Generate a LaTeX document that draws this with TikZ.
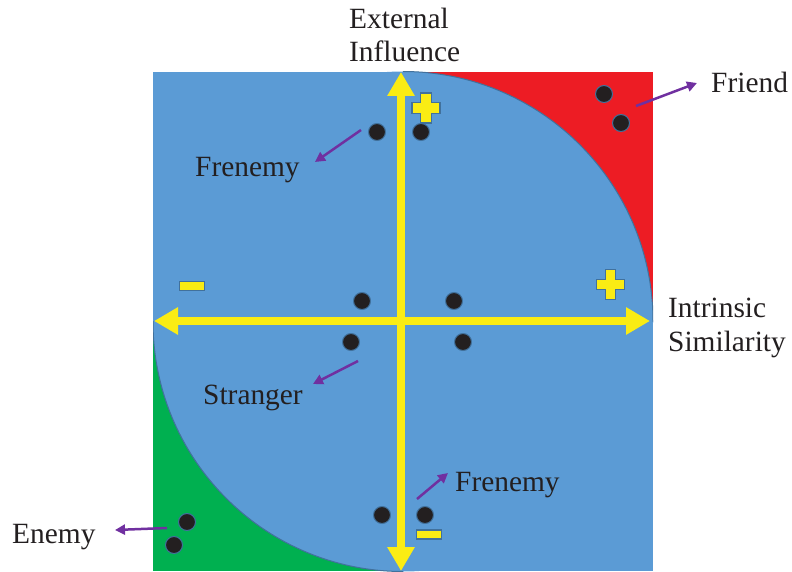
\documentclass[tikz,border=0pt]{standalone}
\usepackage{fontspec}
\setmainfont{Liberation Serif}
\usetikzlibrary{arrows.meta}
\definecolor{qblue}{HTML}{5B9BD5}
\definecolor{qred}{HTML}{ED1C24}
\definecolor{qgreen}{HTML}{00B050}
\definecolor{qyellow}{RGB}{250,236,20}
\definecolor{qedge}{HTML}{41719C}
\definecolor{qpurple}{HTML}{7030A0}
\definecolor{qdot}{HTML}{231F20}
\tikzset{
  lbl/.style={inner sep=0pt, text=qdot, font=\fontsize{29.5}{34}\selectfont},
  dotnode/.style={circle, fill=qdot, draw=qedge, line width=1bp, minimum size=17bp, inner sep=0pt},
  axisarrow/.style={draw=qyellow, line width=8.5bp, {Triangle[width=26bp,length=24bp]}-{Triangle[width=26bp,length=24bp]}},
  pointer/.style={draw=qpurple, line width=2.5bp, -{Triangle[width=10bp,length=10bp]}},
  signstyle/.style={fill=qyellow, draw=qedge, line width=1.2bp},
  plussign/.pic={\filldraw[signstyle] (-5.25,-15) -- (5.25,-15) -- (5.25,-5.25) -- (14,-5.25) -- (14,5.25) -- (5.25,5.25) -- (5.25,15) -- (-5.25,15) -- (-5.25,5.25) -- (-14,5.25) -- (-14,-5.25) -- (-5.25,-5.25) -- cycle;},
  minussign/.pic={\filldraw[signstyle] (-12.5,-4.5) rectangle (12.5,4.5);}
}
\begin{document}
\begin{tikzpicture}[x=1bp,y=-1bp]
\useasboundingbox (0,0) rectangle (792,572);
% background square and corner regions
\begin{scope}
  \clip (153,72) rectangle (653,571);
  \fill[qblue] (153,72) rectangle (653,571);
  \fill[qred] (403,72) rectangle (653,321.5);
  \fill[qgreen] (153,321.5) rectangle (403,571);
  \fill[qblue] (403,321.5) circle[radius=250];
\end{scope}
\begin{scope}
  \clip (403,72) rectangle (653,321.5);
  \draw[qedge, line width=1bp] (403,321.5) circle[radius=250];
\end{scope}
\begin{scope}
  \clip (153,321.5) rectangle (403,571);
  \draw[qedge, line width=1bp] (403,321.5) circle[radius=250];
\end{scope}
% axes
\coordinate (top) at (401,72);
\coordinate (bottom) at (401,571);
\coordinate (left) at (154,321);
\coordinate (right) at (650,321);
\draw[axisarrow] (bottom) -- (top);
\draw[axisarrow] (left) -- (right);
% signs
\pic at (426,108) {plussign};
\pic at (610.5,284.5) {plussign};
\pic at (192,286) {minussign};
\pic at (429,534.5) {minussign};
% dots
\node[dotnode] (f1) at (604,94) {};
\node[dotnode] (f2) at (621,123) {};
\node[dotnode] (t1) at (377,132) {};
\node[dotnode] (t2) at (421,132) {};
\node[dotnode] (m1) at (362,301) {};
\node[dotnode] (m2) at (454,301) {};
\node[dotnode] (m3) at (351,342) {};
\node[dotnode] (m4) at (463,342) {};
\node[dotnode] (b1) at (382,515) {};
\node[dotnode] (b2) at (425,515) {};
\node[dotnode] (e1) at (187,522) {};
\node[dotnode] (e2) at (174,545) {};
% labels
\node[lbl, anchor=base west] (friend) at (711,93) {Friend};
\node[lbl, anchor=base west] (enemy) at (12,543) {Enemy};
\node[lbl, anchor=base west] (fren1) at (195,177) {Frenemy};
\node[lbl, anchor=base west] (stranger) at (203,404) {Stranger};
\node[lbl, anchor=base west] (fren2) at (455,491) {Frenemy};
\node[lbl, align=left, anchor=base west] (ext) at (349,62) {External\\Influence};
\node[lbl, align=left, anchor=base west] (intr) at (668,351) {Intrinsic\\Similarity};
% pointers
\coordinate (pf0) at (636,106); \coordinate (pf1) at (697,83);
\coordinate (pe0) at (167,528); \coordinate (pe1) at (115,530);
\coordinate (pt0) at (361,130); \coordinate (pt1) at (315,162);
\coordinate (ps0) at (358,361); \coordinate (ps1) at (313,384);
\coordinate (pb0) at (417,499); \coordinate (pb1) at (448,473);
\draw[pointer] (pf0) -- (pf1);
\draw[pointer] (pe0) -- (pe1);
\draw[pointer] (pt0) -- (pt1);
\draw[pointer] (ps0) -- (ps1);
\draw[pointer] (pb0) -- (pb1);
\end{tikzpicture}
\end{document}
